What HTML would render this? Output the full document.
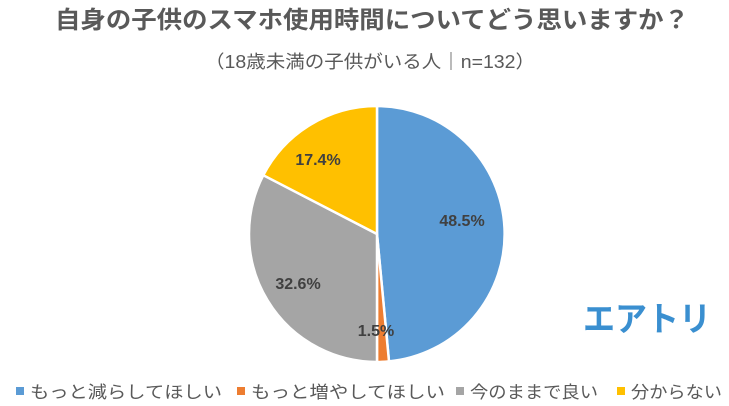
<!DOCTYPE html>
<html><head><meta charset="utf-8"><style>
body{margin:0;width:729px;height:406px;background:#fff;overflow:hidden;font-family:"Liberation Sans","Noto Sans CJK JP",sans-serif;}
</style></head><body>
<svg width="729" height="406" xmlns="http://www.w3.org/2000/svg" style="position:absolute;left:0;top:0">
<text x="372" y="28" text-anchor="middle" font-size="24" font-weight="bold" fill="#595959" textLength="634" lengthAdjust="spacingAndGlyphs" font-family="Liberation Sans,Noto Sans CJK JP,sans-serif">自身の子供のスマホ使用時間についてどう思いますか？</text>
<text x="370" y="68" text-anchor="middle" font-size="18" fill="#595959" textLength="330" lengthAdjust="spacingAndGlyphs" font-family="Liberation Sans,Noto Sans CJK JP,sans-serif">（18歳未満の子供がいる人｜n=132）</text>
<g stroke="#fff" stroke-width="2.5" stroke-linejoin="round">
<path d="M377,234 L377,106 A128,128 0 0 1 389,361.4 Z" fill="#5B9BD5"/>
<path d="M377,234 L389,361.4 A128,128 0 0 1 377,362 Z" fill="#ED7D31"/>
<path d="M377,234 L377,362 A128,128 0 0 1 263.3,175.2 Z" fill="#A5A5A5"/>
<path d="M377,234 L263.3,175.2 A128,128 0 0 1 377,106 Z" fill="#FFC000"/>
</g>
<g font-size="16" font-weight="bold" fill="#404040" text-anchor="middle" font-family="Liberation Sans,sans-serif">
<text x="462" y="226">48.5%</text>
<text x="376" y="336">1.5%</text>
<text x="298" y="289">32.6%</text>
<text x="318" y="165">17.4%</text>
</g>
<text x="647" y="331" text-anchor="middle" font-size="34" font-weight="bold" fill="#3A8FD0" textLength="128" lengthAdjust="spacingAndGlyphs" font-family="Noto Sans CJK JP,sans-serif">エアトリ</text>
<g font-size="17" fill="#595959" font-family="Liberation Sans,Noto Sans CJK JP,sans-serif">
<rect x="16" y="387" width="8" height="8" fill="#5B9BD5"/><text x="30" y="398" textLength="192" lengthAdjust="spacingAndGlyphs">もっと減らしてほしい</text>
<rect x="237" y="387" width="8" height="8" fill="#ED7D31"/><text x="251" y="398" textLength="194" lengthAdjust="spacingAndGlyphs">もっと増やしてほしい</text>
<rect x="456" y="387" width="8" height="8" fill="#A5A5A5"/><text x="470" y="398" textLength="128" lengthAdjust="spacingAndGlyphs">今のままで良い</text>
<rect x="617" y="387" width="8" height="8" fill="#FFC000"/><text x="631" y="398" textLength="91" lengthAdjust="spacingAndGlyphs">分からない</text>
</g>
</svg>
</body></html>
